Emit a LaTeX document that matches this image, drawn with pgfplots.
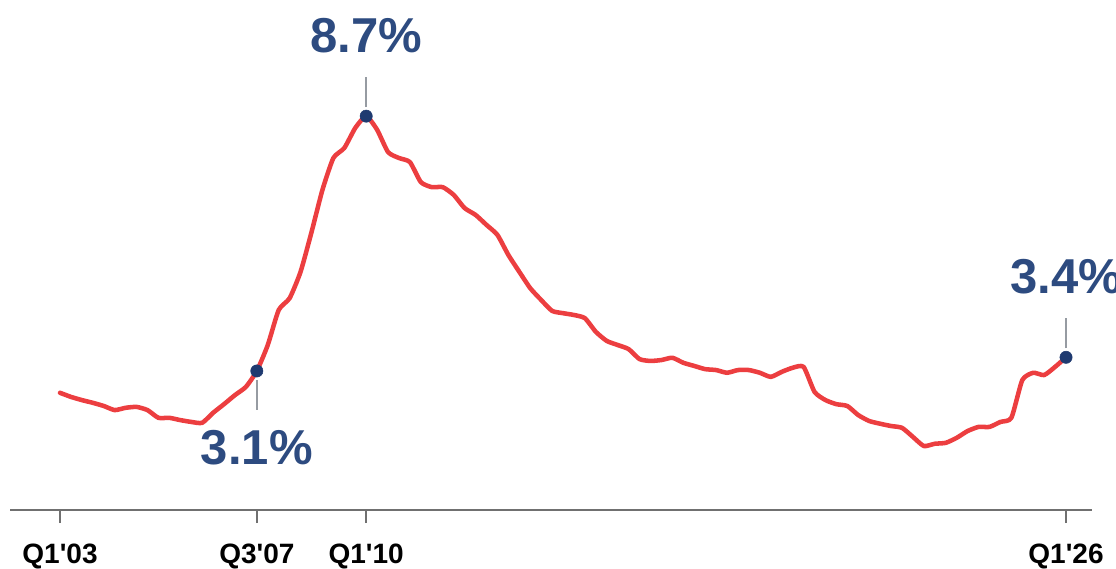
\documentclass[border=0pt]{standalone}
\usepackage{fontspec}
\setmainfont{Liberation Sans}[Ligatures=TeXOff]
\usepackage{pgfplots}
\pgfplotsset{compat=1.18}
\usepackage{pgfplotstable}

\definecolor{lineRed}{RGB}{236,62,64}
\definecolor{dotBlue}{RGB}{31,58,112}
\definecolor{labelBlue}{RGB}{45,75,128}
\definecolor{axisGray}{RGB}{112,112,112}
\definecolor{leaderGray}{RGB}{150,155,162}

% Quarterly rate, quarter index 0 = Q1'03 ... 92 = Q1'26
\pgfplotstableread{
q v
0 2.62
1 2.53
2 2.46
3 2.40
4 2.33
5 2.24
6 2.29
7 2.31
8 2.24
9 2.07
10 2.07
11 2.02
12 1.98
13 1.96
14 2.18
15 2.37
16 2.57
17 2.75
18 3.10
19 3.67
20 4.44
21 4.70
22 5.28
23 6.15
24 7.08
25 7.78
26 8.00
27 8.44
28 8.70
29 8.40
30 7.91
31 7.78
32 7.69
33 7.25
34 7.14
35 7.14
36 6.97
37 6.68
38 6.53
39 6.31
40 6.09
41 5.65
42 5.28
43 4.92
44 4.66
45 4.42
46 4.37
47 4.33
48 4.26
49 3.96
50 3.76
51 3.67
52 3.58
53 3.36
54 3.32
55 3.34
56 3.39
57 3.28
58 3.21
59 3.14
60 3.12
61 3.06
62 3.12
63 3.12
64 3.06
65 2.97
66 3.08
67 3.17
68 3.19
69 2.64
70 2.46
71 2.37
72 2.33
73 2.13
74 2.00
75 1.94
76 1.89
77 1.85
78 1.65
79 1.45
80 1.50
81 1.52
82 1.63
83 1.78
84 1.87
85 1.87
86 1.98
87 2.07
88 2.90
89 3.06
90 3.01
91 3.19
92 3.40
}\ratedata

\begin{document}
\begin{tikzpicture}
\begin{axis}[
  scale only axis,
  width=811.5pt, height=382.5pt,
  xmin=-4.572, xmax=94.38,
  ymin=0.044, ymax=11.253,
  clip=false,
  axis y line=none,
  axis x line=bottom,
  x axis line style={-, draw=axisGray, line width=1.5pt},
  ytick=\empty,
  xtick={0,18,28,92},
  xticklabels={Q1'03,Q3'07,Q1'10,Q1'26},
  tick align=outside,
  major tick length=9.75pt,
  xtick style={draw=axisGray, line width=1.5pt},
  xticklabel style={font=\fontsize{21}{25}\selectfont\bfseries, text=black, anchor=base, yshift=-30pt},
]
\addplot[color=lineRed, line width=3.4pt, smooth, tension=0.35, line join=round, line cap=round] table[x=q, y=v] {\ratedata};

% leader lines from each highlighted point to its label
\draw[leaderGray, line width=1.2pt] ([yshift=6.75pt]axis cs:28,8.7) -- ([yshift=29.25pt]axis cs:28,8.7);
\draw[leaderGray, line width=1.2pt] ([yshift=-6.75pt]axis cs:18,3.1) -- ([yshift=-29.25pt]axis cs:18,3.1);
\draw[leaderGray, line width=1.2pt] ([yshift=6.75pt]axis cs:92,3.4) -- ([yshift=29.25pt]axis cs:92,3.4);

\addplot[only marks, mark=*, mark size=4.6pt, color=dotBlue] coordinates {(18,3.1) (28,8.7) (92,3.4)};

\node[anchor=base, text=labelBlue, font=\fontsize{36.75}{40}\selectfont\bfseries, yshift=48pt] at (axis cs:28,8.7) {8.7\%};
\node[anchor=base, text=labelBlue, font=\fontsize{36.75}{40}\selectfont\bfseries, yshift=-70.5pt] at (axis cs:18,3.1) {3.1\%};
\node[anchor=base, text=labelBlue, font=\fontsize{36.75}{40}\selectfont\bfseries, yshift=48pt] at (axis cs:92,3.4) {3.4\%};

\coordinate (bbsw) at (axis cs:-5.487,-1.2308);
\coordinate (bbne) at (axis cs:96.57,11.2527);
\end{axis}
\pgfresetboundingbox
\useasboundingbox (bbsw) rectangle (bbne);
\end{tikzpicture}
\end{document}
